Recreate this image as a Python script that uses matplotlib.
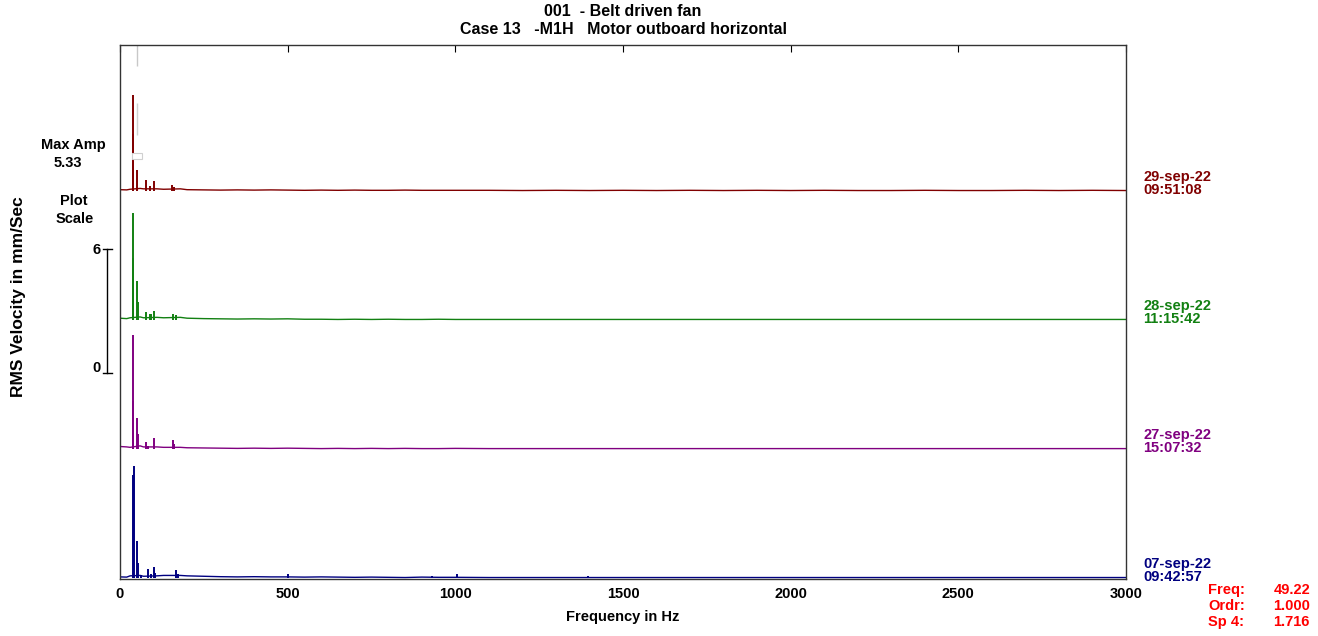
import matplotlib
matplotlib.use("Agg")
import matplotlib.pyplot as plt
from matplotlib.patches import Rectangle

plt.rcParams['font.family'] = ['Liberation Sans', 'DejaVu Sans']
plt.rcParams['font.weight'] = 'bold'

# ---------------- data ----------------
title_line1 = "001  - Belt driven fan"
title_line2 = "Case 13   -M1H   Motor outboard horizontal"
x_label = "Frequency in Hz"
y_label = "RMS Velocity in mm/Sec"
x_ticks = [0, 500, 1000, 1500, 2000, 2500, 3000]

dates = ["07-sep-22\n09:42:57", "27-sep-22\n15:07:32", "28-sep-22\n11:15:42", "29-sep-22\n09:51:08"]
colors = ["#000080", "#800080", "#128012", "#800000"]
offsets = [0.0, 6.14, 12.29, 18.43]

# baseline noise (Hz, mm/s)
noise_freq = [0, 20, 30, 60, 70, 110, 130, 180, 200, 250, 300, 350, 400, 450, 500, 550, 600,
              650, 700, 750, 800, 850, 900, 950, 1000, 1100, 1200, 1300, 1400, 1500,
              1600, 1700, 1800, 1900, 2000, 2100, 2200, 2300, 2400, 2500, 2600, 2700,
              2800, 2900, 3000]
noise_blue = [0.05, 0.04, 0.10, 0.12, 0.08, 0.10, 0.12, 0.12, 0.10, 0.08, 0.06, 0.05, 0.06, 0.05, 0.05, 0.04, 0.05,
              0.04, 0.03, 0.04, 0.03, 0.02, 0.04, 0.03, 0.03, 0.02, 0.02, 0.02, 0.02, 0.02,
              0.02, 0.02, 0.02, 0.02, 0.02, 0.02, 0.02, 0.02, 0.02, 0.02, 0.02, 0.02,
              0.02, 0.02, 0.02]
noise_purple = [0.12, 0.10, 0.08, 0.15, 0.10, 0.10, 0.08, 0.08, 0.06, 0.05, 0.04, 0.03, 0.04, 0.03, 0.04, 0.03, 0.02,
                0.03, 0.02, 0.03, 0.02, 0.03, 0.02, 0.02, 0.03, 0.02, 0.02, 0.02, 0.02, 0.02,
                0.02, 0.02, 0.02, 0.02, 0.02, 0.02, 0.02, 0.02, 0.02, 0.02, 0.02, 0.02,
                0.02, 0.02, 0.02]
noise_green = [0.08, 0.06, 0.10, 0.14, 0.10, 0.12, 0.10, 0.12, 0.08, 0.06, 0.05, 0.04, 0.05, 0.04, 0.05, 0.03, 0.03,
               0.02, 0.03, 0.02, 0.03, 0.02, 0.02, 0.03, 0.02, 0.02, 0.02, 0.02, 0.02, 0.02,
               0.02, 0.02, 0.02, 0.02, 0.02, 0.02, 0.02, 0.02, 0.02, 0.02, 0.02, 0.02,
               0.02, 0.02, 0.02]
noise_red = [0.06, 0.05, 0.08, 0.12, 0.10, 0.10, 0.08, 0.10, 0.06, 0.05, 0.04, 0.05, 0.04, 0.05, 0.04, 0.03, 0.04,
             0.03, 0.04, 0.03, 0.03, 0.04, 0.03, 0.03, 0.03, 0.03, 0.02, 0.03, 0.02, 0.03,
             0.02, 0.03, 0.02, 0.03, 0.02, 0.03, 0.02, 0.02, 0.03, 0.02, 0.02, 0.03,
             0.02, 0.03, 0.02]

# discrete peaks (Hz, mm/s)
peaks_blue_f = [39.7, 41.7, 51.6, 53.7, 62.6, 84.4, 92.0, 100.5, 104.0, 167.0, 172.0, 500.0, 930.0, 1005.0, 1395.0]
peaks_blue_a = [4.90, 5.33, 1.76, 0.70, 0.14, 0.43, 0.20, 0.52, 0.25, 0.38, 0.18, 0.20, 0.10, 0.20, 0.10]
peaks_purple_f = [38.8, 39.7, 51.6, 53.7, 78.4, 84.0, 100.5, 158.0, 162.0]
peaks_purple_a = [2.30, 5.43, 1.50, 0.70, 0.33, 0.15, 0.52, 0.43, 0.25]
peaks_green_f = [38.8, 39.7, 51.6, 53.7, 78.4, 88.6, 92.0, 100.5, 158.0, 167.0]
peaks_green_a = [2.95, 5.10, 1.86, 0.86, 0.38, 0.30, 0.30, 0.43, 0.28, 0.24]
peaks_red_f = [38.8, 39.7, 51.6, 78.4, 88.6, 100.5, 156.0, 160.0]
peaks_red_a = [2.70, 4.57, 1.00, 0.50, 0.25, 0.45, 0.30, 0.20]

cursor_freq = 49.22
readout_labels = ["Freq:", "Ordr:", "Sp 4:"]
readout_values = ["49.22", "1.000", "1.716"]
max_amp = "5.33"
scale_lo, scale_hi = 0, 6

# ---------------- figure ----------------
fig = plt.figure(figsize=(13.18, 6.36), dpi=100)
ax = fig.add_axes([120/1318, 1 - 579/636, 1006/1318, 534/636])
ax.set_xlim(0, 3000)
ax.set_ylim(-0.05, 25.38)

noises = [noise_blue, noise_purple, noise_green, noise_red]
peaks = [(peaks_blue_f, peaks_blue_a), (peaks_purple_f, peaks_purple_a),
         (peaks_green_f, peaks_green_a), (peaks_red_f, peaks_red_a)]

for off, col, nz, (pf, pa), lab in zip(offsets, colors, noises, peaks, dates):
    ax.plot(noise_freq, [off + v for v in nz], color=col, lw=1.0)
    ax.vlines(pf, off, [off + a for a in pa], color=col, lw=1.4)
    ax.text(1.017, off + 0.35, lab, transform=ax.get_yaxis_transform(),
            color=col, fontsize=10.5, fontweight='bold', ha='left', va='center',
            linespacing=0.95)

# cursor marker
ax.vlines([cursor_freq], 24.4, 25.38, color='#c8c8c8', lw=1.0)
ax.vlines([cursor_freq + 1.5], 21.1, 22.6, color='#d0d0d0', lw=1.0)
ax.add_patch(Rectangle((36, 19.95), 30, 0.3, facecolor='white', edgecolor='#d0d0d0', lw=0.8, zorder=5))

ax.set_xticks(x_ticks)
ax.set_xticklabels([str(t) for t in x_ticks], fontsize=10.5, fontweight='bold')
ax.tick_params(axis='x', bottom=False, top=True, direction='in', length=5,
               labelbottom=True, pad=6)
ax.set_yticks([])
for s in ax.spines.values():
    s.set_linewidth(1.0)
    s.set_color('#333333')

ax.set_xlabel(x_label, fontsize=10.5, fontweight='bold', labelpad=6)

fig.text(623/1318, 1 - 11/636, title_line1, ha='center', va='center', fontsize=11.5, fontweight='bold')
fig.text(623/1318, 1 - 29/636, title_line2, ha='center', va='center', fontsize=11.5, fontweight='bold')

fig.text(19/1318, 1 - 297/636, y_label, rotation=90, ha='center', va='center', fontsize=12.5, fontweight='bold')

fig.text(73/1318, 1 - 145/636, "Max Amp", ha='center', va='center', fontsize=10.5, fontweight='bold')
fig.text(68/1318, 1 - 163/636, max_amp, ha='center', va='center', fontsize=10.5, fontweight='bold')
fig.text(74/1318, 1 - 201/636, "Plot", ha='center', va='center', fontsize=10.5, fontweight='bold')
fig.text(75/1318, 1 - 219/636, "Scale", ha='center', va='center', fontsize=10.5, fontweight='bold')
fig.text(101/1318, 1 - 250/636, str(scale_hi), ha='right', va='center', fontsize=10.5, fontweight='bold')
fig.text(101/1318, 1 - 368/636, str(scale_lo), ha='right', va='center', fontsize=10.5, fontweight='bold')

# scale bracket
lx = 107/1318
fig.add_artist(plt.Line2D([lx, lx], [1 - 249/636, 1 - 373/636], color='black', lw=1.0))
fig.add_artist(plt.Line2D([103/1318, 112/1318], [1 - 249/636, 1 - 249/636], color='black', lw=1.0))
fig.add_artist(plt.Line2D([103/1318, 112/1318], [1 - 373/636, 1 - 373/636], color='black', lw=1.0))

for i, (lab, val) in enumerate(zip(readout_labels, readout_values)):
    y = 1 - (590 + 16 * i) / 636
    fig.text(1208/1318, y, lab, ha='left', va='center', color='#ff0000', fontsize=10.5, fontweight='bold')
    fig.text(1310/1318, y, val, ha='right', va='center', color='#ff0000', fontsize=10.5, fontweight='bold')

fig.savefig("out.png", dpi=100, facecolor='white')
